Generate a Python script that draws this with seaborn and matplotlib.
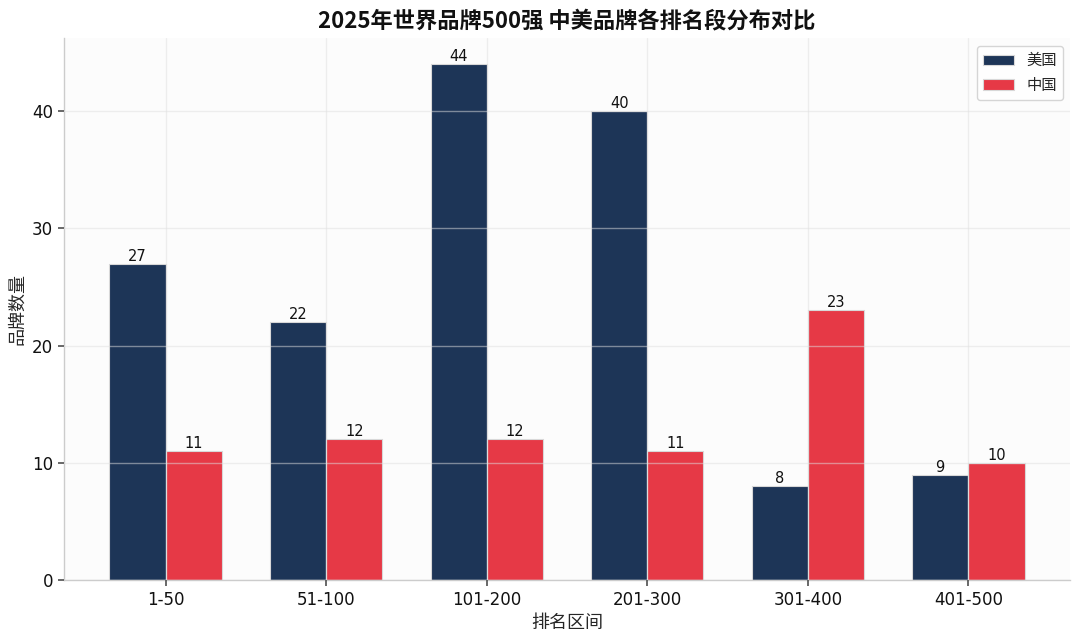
import matplotlib
matplotlib.use("Agg")
import matplotlib.pyplot as plt
import seaborn as sns
import pandas as pd

categories = ["1-50", "51-100", "101-200", "201-300", "301-400", "401-500"]
us_values = [27, 22, 44, 40, 8, 9]
cn_values = [11, 12, 12, 11, 23, 10]
series_names = ["美国", "中国"]
colors = ["#1d3557", "#e63946"]

sns.set_theme(style="white")
plt.rcParams['font.family'] = ['DejaVu Sans', 'Noto Sans CJK SC']
plt.rcParams['axes.unicode_minus'] = False

df = pd.DataFrame({
    "区间": categories * 2,
    "数量": us_values + cn_values,
    "国家": [series_names[0]] * len(categories) + [series_names[1]] * len(categories),
})

fig, ax = plt.subplots(figsize=(10.8, 6.41), dpi=100)
ax.set_facecolor("#fcfcfc")
sns.barplot(data=df, x="区间", y="数量", hue="国家", hue_order=series_names,
            palette=colors, width=0.7, saturation=1, ax=ax,
            edgecolor="#d8d8d8", linewidth=0.8, errorbar=None)

for cont in ax.containers:
    ax.bar_label(cont, fontsize=10.5, padding=0, color="#111111", family="DejaVu Sans")

ax.set_xlim(-0.635, 5.635)
ax.set_ylim(0, 46.2)
ax.set_yticks([0, 10, 20, 30, 40])
ax.grid(True, color="#e0e0e0", alpha=0.5, linewidth=1)
ax.set_axisbelow(False)

for s in ["top", "right"]:
    ax.spines[s].set_visible(False)
for s in ["left", "bottom"]:
    ax.spines[s].set_color("#cccccc")
    ax.spines[s].set_linewidth(1)

ax.tick_params(axis="both", which="both", length=4, color="#555555", labelsize=12,
               left=True, bottom=True, labelcolor="#111111")
plt.setp(ax.get_xticklabels(), family="DejaVu Sans")
plt.setp(ax.get_yticklabels(), family="DejaVu Sans")
ax.set_xlabel("排名区间", fontsize=13, family=['Noto Sans CJK SC', 'DejaVu Sans'], labelpad=4)
ax.set_ylabel("品牌数量", fontsize=13, family=['Noto Sans CJK SC', 'DejaVu Sans'], labelpad=4)
ax.set_title("2025年世界品牌500强 中美品牌各排名段分布对比", fontsize=16, fontweight="bold",
             family=['Noto Sans CJK SC', 'DejaVu Sans'], pad=8, color="#111111")

leg = ax.legend(loc="upper right", frameon=True, title=None,
                prop={'family': ['Noto Sans CJK SC', 'DejaVu Sans'], 'size': 11})
leg.get_frame().set_edgecolor("#cccccc")

fig.subplots_adjust(left=0.059, right=0.991, top=0.94, bottom=0.095)
fig.savefig("out.png", dpi=100)
